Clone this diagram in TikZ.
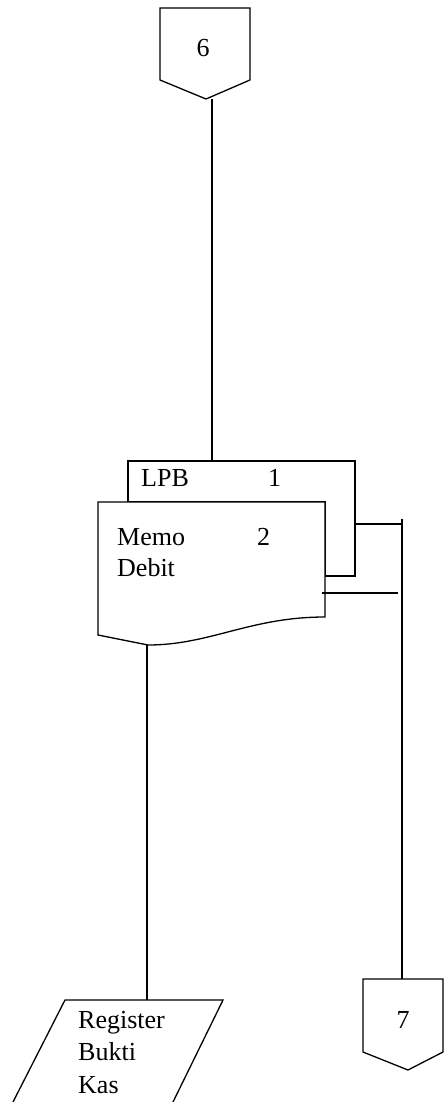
\documentclass[tikz,border=0pt]{standalone}
\usepackage{fontspec}
\setmainfont{Liberation Serif}
\begin{document}
\begin{tikzpicture}[x=1pt,y=-1pt,
  shp/.style={draw=black,line width=1.3pt,fill=white,line join=miter},
  ln/.style={draw=black,line width=1.3pt},
  txt/.style={inner sep=0pt,font=\fontsize{26}{31}\selectfont},
]
\useasboundingbox (0,0) rectangle (444,1102);
% off-page connector 6
\draw[shp] (160,8) -- (250,8) -- (250,80) -- (206,99) -- (160,80) -- cycle;
\node[txt,anchor=base] (n6) at (203,57) {6};
\coordinate (c6) at (212,99);
% back document LPB 1
\draw[shp] (128,461) -- (355,461) -- (355,576) -- (325,576) -- (325,502) -- (128,502) -- cycle;
\coordinate (lpbtop) at (212,461);
\coordinate (lpbr) at (355,524);
\node[txt,anchor=base west] (lpb) at (141,486) {LPB};
\node[txt,anchor=base west] (one) at (268,486) {1};
% front document Memo Debit 2
\draw[shp] (98,502) -- (325,502) -- (325,617) .. controls (250,617) and (210,645) .. (148,645) -- (98,635) -- cycle;
\coordinate (memob) at (147,645);
\coordinate (memor) at (322,593);
\node[txt,anchor=base west] (memo) at (117,545) {Memo};
\node[txt,anchor=base west] (debit) at (117,576) {Debit};
\node[txt,anchor=base west] (two) at (257,545) {2};
% right side lines
\coordinate (vtop) at (402,519);
\coordinate (vr) at (402,524);
\coordinate (hr2) at (398,593);
% connector 7
\draw[shp] (363,979) -- (443,979) -- (443,1052) -- (408,1070) -- (363,1052) -- cycle;
\coordinate (c7) at (402,979);
\node[txt,anchor=base] (n7) at (403,1028) {7};
% parallelogram Register Bukti Kas
\draw[ln,line join=miter] (13,1102) -- (65,1000) -- (223,1000) -- (173,1102);
\coordinate (regtop) at (147,1000);
\node[txt,anchor=base west] (r1) at (78,1028) {Register};
\node[txt,anchor=base west] (r2) at (78,1060) {Bukti};
\node[txt,anchor=base west] (r3) at (78,1093) {Kas};
% connectors
\draw[ln] (c6) -- (lpbtop);
\draw[ln] (lpbr) -- (vr);
\draw[ln] (vtop) -- (c7);
\draw[ln] (memor) -- (hr2);
\draw[ln] (memob) -- (regtop);
\end{tikzpicture}
\end{document}
